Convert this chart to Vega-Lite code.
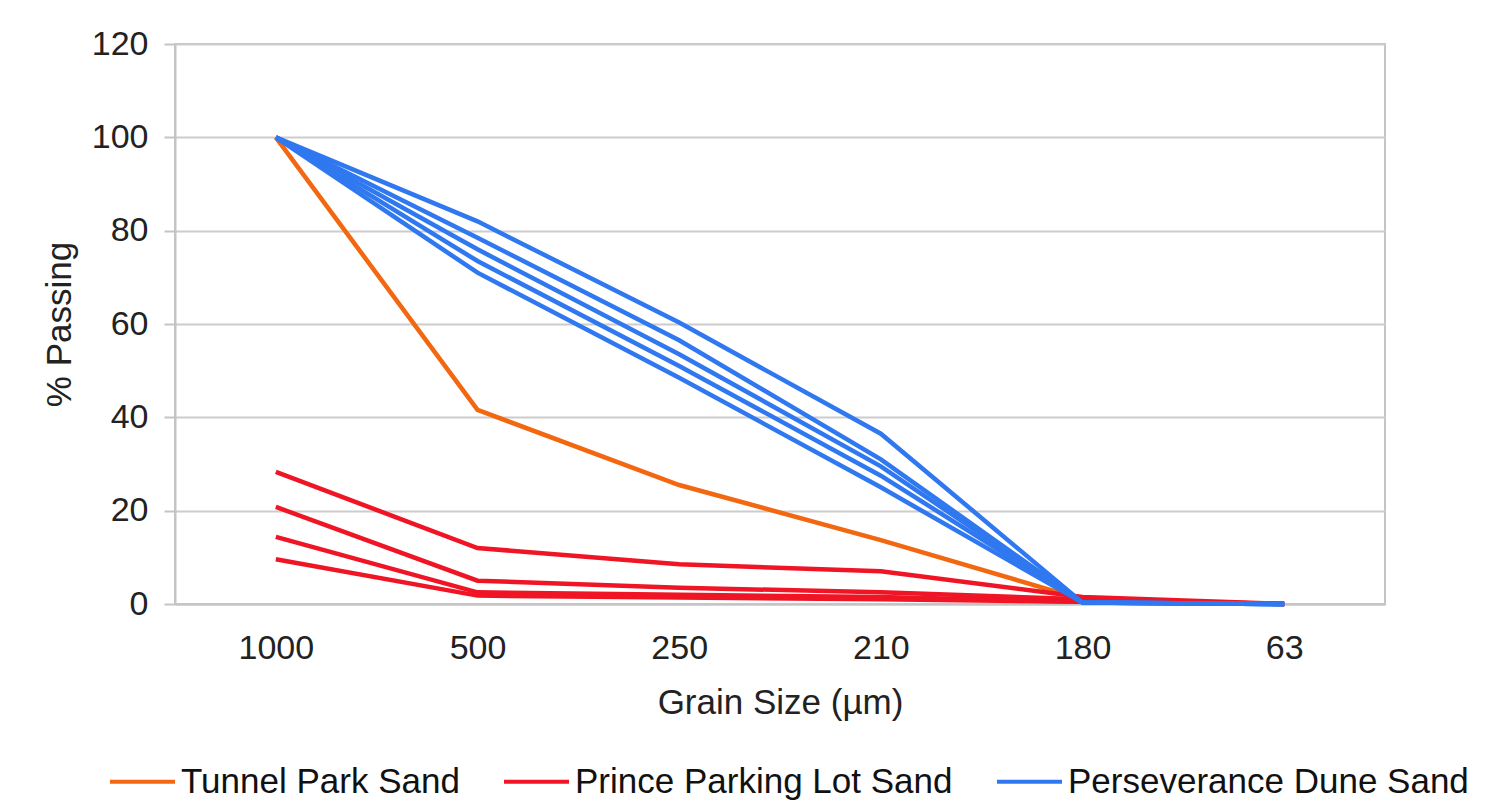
{
  "$schema": "https://vega.github.io/schema/vega-lite/v6.json",
  "autosize": "none",
  "width": 1210,
  "height": 560,
  "padding": {"left": 175, "top": 44, "right": 113, "bottom": 198},
  "background": "white",
  "config": {
    "font": "Liberation Sans",
    "view": {"stroke": "#c4c4c4", "strokeWidth": 2}
  },
  "data": {
    "values": [
      {"size": "1000", "pct": 100, "sample": "T1", "group": "Tunnel Park Sand"},
      {"size": "500", "pct": 41.6, "sample": "T1", "group": "Tunnel Park Sand"},
      {"size": "250", "pct": 25.5, "sample": "T1", "group": "Tunnel Park Sand"},
      {"size": "210", "pct": 13.7, "sample": "T1", "group": "Tunnel Park Sand"},
      {"size": "180", "pct": 1, "sample": "T1", "group": "Tunnel Park Sand"},
      {"size": "63", "pct": 0, "sample": "T1", "group": "Tunnel Park Sand"},

      {"size": "1000", "pct": 28.3, "sample": "R1", "group": "Prince Parking Lot Sand"},
      {"size": "500", "pct": 12, "sample": "R1", "group": "Prince Parking Lot Sand"},
      {"size": "250", "pct": 8.5, "sample": "R1", "group": "Prince Parking Lot Sand"},
      {"size": "210", "pct": 7, "sample": "R1", "group": "Prince Parking Lot Sand"},
      {"size": "180", "pct": 1.5, "sample": "R1", "group": "Prince Parking Lot Sand"},
      {"size": "63", "pct": 0, "sample": "R1", "group": "Prince Parking Lot Sand"},
      {"size": "1000", "pct": 20.8, "sample": "R2", "group": "Prince Parking Lot Sand"},
      {"size": "500", "pct": 5, "sample": "R2", "group": "Prince Parking Lot Sand"},
      {"size": "250", "pct": 3.5, "sample": "R2", "group": "Prince Parking Lot Sand"},
      {"size": "210", "pct": 2.5, "sample": "R2", "group": "Prince Parking Lot Sand"},
      {"size": "180", "pct": 1, "sample": "R2", "group": "Prince Parking Lot Sand"},
      {"size": "63", "pct": 0, "sample": "R2", "group": "Prince Parking Lot Sand"},
      {"size": "1000", "pct": 14.4, "sample": "R3", "group": "Prince Parking Lot Sand"},
      {"size": "500", "pct": 2.5, "sample": "R3", "group": "Prince Parking Lot Sand"},
      {"size": "250", "pct": 2, "sample": "R3", "group": "Prince Parking Lot Sand"},
      {"size": "210", "pct": 1.5, "sample": "R3", "group": "Prince Parking Lot Sand"},
      {"size": "180", "pct": 0.5, "sample": "R3", "group": "Prince Parking Lot Sand"},
      {"size": "63", "pct": 0, "sample": "R3", "group": "Prince Parking Lot Sand"},
      {"size": "1000", "pct": 9.6, "sample": "R4", "group": "Prince Parking Lot Sand"},
      {"size": "500", "pct": 1.8, "sample": "R4", "group": "Prince Parking Lot Sand"},
      {"size": "250", "pct": 1.4, "sample": "R4", "group": "Prince Parking Lot Sand"},
      {"size": "210", "pct": 1, "sample": "R4", "group": "Prince Parking Lot Sand"},
      {"size": "180", "pct": 0.5, "sample": "R4", "group": "Prince Parking Lot Sand"},
      {"size": "63", "pct": 0, "sample": "R4", "group": "Prince Parking Lot Sand"},

      {"size": "1000", "pct": 100, "sample": "B1", "group": "Perseverance Dune Sand"},
      {"size": "500", "pct": 82, "sample": "B1", "group": "Perseverance Dune Sand"},
      {"size": "250", "pct": 60.3, "sample": "B1", "group": "Perseverance Dune Sand"},
      {"size": "210", "pct": 36.5, "sample": "B1", "group": "Perseverance Dune Sand"},
      {"size": "180", "pct": 0.3, "sample": "B1", "group": "Perseverance Dune Sand"},
      {"size": "63", "pct": 0, "sample": "B1", "group": "Perseverance Dune Sand"},
      {"size": "1000", "pct": 100, "sample": "B2", "group": "Perseverance Dune Sand"},
      {"size": "500", "pct": 78.5, "sample": "B2", "group": "Perseverance Dune Sand"},
      {"size": "250", "pct": 56.5, "sample": "B2", "group": "Perseverance Dune Sand"},
      {"size": "210", "pct": 31, "sample": "B2", "group": "Perseverance Dune Sand"},
      {"size": "180", "pct": 0.3, "sample": "B2", "group": "Perseverance Dune Sand"},
      {"size": "63", "pct": 0, "sample": "B2", "group": "Perseverance Dune Sand"},
      {"size": "1000", "pct": 100, "sample": "B3", "group": "Perseverance Dune Sand"},
      {"size": "500", "pct": 76, "sample": "B3", "group": "Perseverance Dune Sand"},
      {"size": "250", "pct": 53.5, "sample": "B3", "group": "Perseverance Dune Sand"},
      {"size": "210", "pct": 29.5, "sample": "B3", "group": "Perseverance Dune Sand"},
      {"size": "180", "pct": 0.3, "sample": "B3", "group": "Perseverance Dune Sand"},
      {"size": "63", "pct": 0, "sample": "B3", "group": "Perseverance Dune Sand"},
      {"size": "1000", "pct": 100, "sample": "B4", "group": "Perseverance Dune Sand"},
      {"size": "500", "pct": 73.5, "sample": "B4", "group": "Perseverance Dune Sand"},
      {"size": "250", "pct": 51, "sample": "B4", "group": "Perseverance Dune Sand"},
      {"size": "210", "pct": 27.5, "sample": "B4", "group": "Perseverance Dune Sand"},
      {"size": "180", "pct": 0.3, "sample": "B4", "group": "Perseverance Dune Sand"},
      {"size": "63", "pct": 0, "sample": "B4", "group": "Perseverance Dune Sand"},
      {"size": "1000", "pct": 100, "sample": "B5", "group": "Perseverance Dune Sand"},
      {"size": "500", "pct": 71, "sample": "B5", "group": "Perseverance Dune Sand"},
      {"size": "250", "pct": 48.5, "sample": "B5", "group": "Perseverance Dune Sand"},
      {"size": "210", "pct": 25, "sample": "B5", "group": "Perseverance Dune Sand"},
      {"size": "180", "pct": 0.3, "sample": "B5", "group": "Perseverance Dune Sand"},
      {"size": "63", "pct": 0, "sample": "B5", "group": "Perseverance Dune Sand"}
    ]
  },
  "mark": {"type": "line", "strokeWidth": 4.5, "strokeJoin": "miter", "strokeCap": "butt"},
  "encoding": {
    "x": {
      "field": "size",
      "type": "ordinal",
      "sort": ["1000", "500", "250", "210", "180", "63"],
      "scale": {"type": "point", "padding": 0.5},
      "axis": {
        "title": "Grain Size (µm)",
        "titleFontSize": 35,
        "titleFontWeight": "normal",
        "titleColor": "#222222",
        "titlePadding": 20,
        "labelFontSize": 34,
        "labelColor": "#222222",
        "labelPadding": 27,
        "labelAngle": 0,
        "ticks": false,
        "domainColor": "#c4c4c4",
        "domainWidth": 2,
        "grid": false
      }
    },
    "y": {
      "field": "pct",
      "type": "quantitative",
      "scale": {"domain": [0, 120], "nice": false},
      "axis": {
        "title": "% Passing",
        "titleFontSize": 35,
        "titleFontWeight": "normal",
        "titleColor": "#222222",
        "titlePadding": 14,
        "values": [0, 20, 40, 60, 80, 100, 120],
        "labelFontSize": 34,
        "labelColor": "#222222",
        "labelPadding": 16,
        "tickSize": 11,
        "tickColor": "#c4c4c4",
        "tickWidth": 2,
        "domainColor": "#c4c4c4",
        "domainWidth": 2,
        "gridColor": "#cccccc",
        "gridWidth": 2
      }
    },
    "color": {
      "field": "group",
      "type": "nominal",
      "scale": {
        "domain": ["Tunnel Park Sand", "Prince Parking Lot Sand", "Perseverance Dune Sand"],
        "range": ["#f2670f", "#ef1525", "#2f78f0"]
      },
      "legend": {
        "title": null,
        "orient": "none",
        "direction": "horizontal",
        "legendX": -67,
        "legendY": 703,
        "symbolType": "stroke",
        "symbolStrokeWidth": 4,
        "symbolSize": 4225,
        "labelFontSize": 35,
        "labelColor": "#111111",
        "labelLimit": 600,
        "columnPadding": 36,
        "labelOffset": 4
      }
    },
    "detail": {"field": "sample"}
  }
}
